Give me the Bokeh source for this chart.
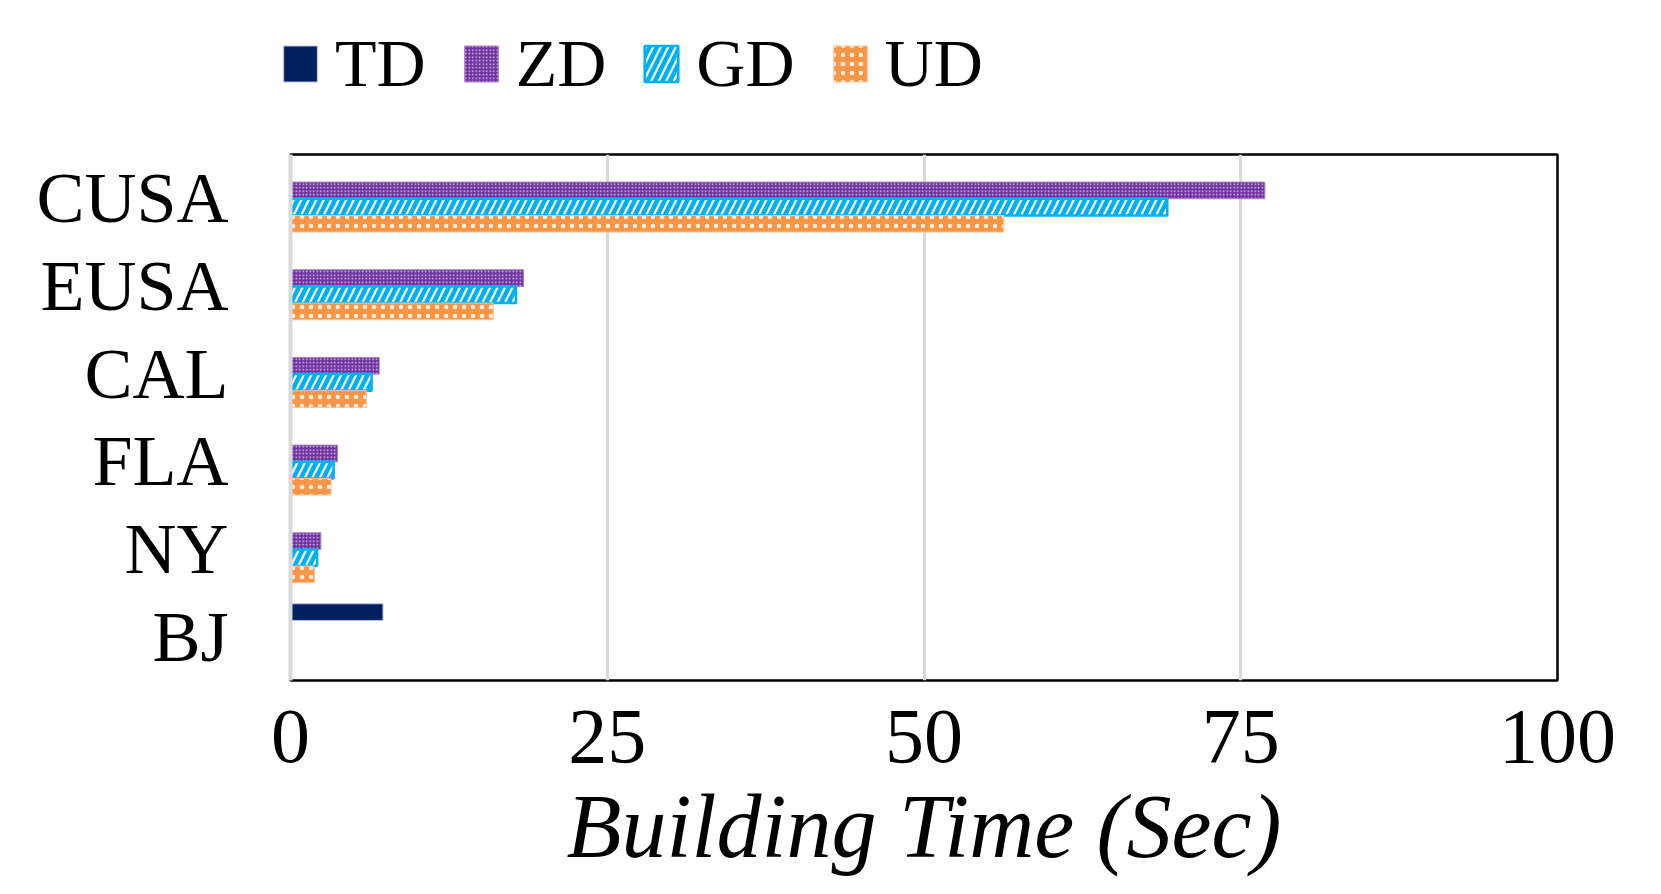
from bokeh.plotting import figure
from bokeh.models import (FactorRange, Range1d, FixedTicker, Legend, LegendItem,
                          ColumnDataSource)
from bokeh.transform import dodge
from bokeh.embed import file_html
from bokeh.resources import INLINE

cities = ["CUSA", "EUSA", "CAL", "FLA", "NY", "BJ"]
series = ["TD", "ZD", "GD", "UD"]
td = [None, None, None, None, None, 7.3]
zd = [76.9, 18.4, 7.0, 3.7, 2.4, None]
gd = [69.2, 17.8, 6.4, 3.4, 2.1, None]
ud = [56.3, 16.0, 6.0, 3.2, 1.9, None]
x_ticks = [0, 25, 50, 75, 100]

FONT = "Liberation Serif"
W = 1640
LEG_H = 140
MAIN_H = 878 - LEG_H
FL, FW, FH = 290, 1267, 528
FT = 154 - LEG_H

styles = {
    "TD": dict(fill_color="#002060", line_color="#b8c2d8", line_width=1),
    "ZD": dict(fill_color="#7030A0", line_color="#a57fc6", line_width=1,
               hatch_pattern="dot", hatch_color="white", hatch_scale=3.5,
               hatch_weight=1, hatch_alpha=0.75),
    "GD": dict(fill_color="white", line_color="#00B0F0", line_width=2.5,
               hatch_pattern="right_diagonal_line", hatch_color="#00B0F0",
               hatch_scale=15, hatch_weight=4.5),
    "UD": dict(fill_color="#F79646", line_color="#fbc49a", line_width=1,
               hatch_pattern="dot", hatch_color="white", hatch_scale=9,
               hatch_weight=1.5, hatch_alpha=0.85),
}
offsets = {"TD": 0.28, "ZD": 0.09, "GD": -0.10, "UD": -0.29}
values = {"TD": td, "ZD": zd, "GD": gd, "UD": ud}

def src(vals):
    c = [k for k, v in zip(cities, vals) if v is not None]
    v = [v for v in vals if v is not None]
    return ColumnDataSource(dict(city=c, val=v))

sources = {s: src(values[s]) for s in series}

p = figure(width=W, height=MAIN_H,
           y_range=FactorRange(factors=list(reversed(cities))),
           x_range=Range1d(0, 100),
           output_backend="svg", toolbar_location=None,
           min_border_left=FL, min_border_right=W - FL - FW,
           min_border_top=FT, min_border_bottom=MAIN_H - FT - FH)

p.outline_line_color = "black"
p.outline_line_width = 2.5
p.background_fill_color = "white"
p.border_fill_color = "white"

H = 0.19
for s in series:
    p.hbar(y=dodge("city", offsets[s], range=p.y_range), right="val", left=0,
           height=H, source=sources[s], **styles[s])

# axes
p.xaxis.ticker = FixedTicker(ticks=x_ticks)
p.xaxis.major_tick_line_color = None
p.xaxis.minor_tick_line_color = None
p.xaxis.major_tick_out = 0
p.xaxis.axis_line_color = None
p.xaxis.major_label_text_font = FONT
p.xaxis.major_label_text_font_size = "78px"
p.xaxis.major_label_text_color = "black"
p.xaxis.major_label_standoff = 30
p.xaxis.axis_label = "Building Time (Sec)"
p.xaxis.axis_label_text_font = FONT
p.xaxis.axis_label_text_font_style = "italic"
p.xaxis.axis_label_text_font_size = "90px"
p.xaxis.axis_label_text_color = "black"
p.xaxis.axis_label_standoff = 12

p.yaxis.major_tick_line_color = None
p.yaxis.major_tick_out = 0
p.yaxis.axis_line_color = "#d9d9d9"
p.yaxis.axis_line_width = 4
p.yaxis.major_label_text_font = FONT
p.yaxis.major_label_text_font_size = "72px"
p.yaxis.major_label_text_color = "black"
p.yaxis.major_label_standoff = 62

p.xgrid.grid_line_color = "#d9d9d9"
p.xgrid.grid_line_width = 3
p.ygrid.grid_line_color = None

# legend strip: hidden copies of the series supply the legend swatches
lf = figure(width=W, height=LEG_H, output_backend="svg", toolbar_location=None,
            x_axis_location=None, y_axis_location=None,
            min_border_left=0, min_border_right=0, min_border_top=0, min_border_bottom=0,
            x_range=Range1d(0, 100), y_range=FactorRange(factors=cities))
lf.outline_line_color = None
lf.xgrid.grid_line_color = None
lf.ygrid.grid_line_color = None
items = []
for s in series:
    r = lf.hbar(y="city", right="val", left=0, height=H, source=sources[s], **styles[s])
    r.visible = False
    items.append(LegendItem(label=s, renderers=[r]))
legend = Legend(items=items, orientation="horizontal", location=(279, 37),
                glyph_width=42, glyph_height=45, label_standoff=14, spacing=34,
                label_text_font=FONT, label_text_font_size="68px",
                label_text_color="black",
                inactive_fill_alpha=0,
                border_line_color=None, background_fill_alpha=0,
                padding=0, margin=0)
lf.add_layout(legend, "center")

open("out.html", "w").write(file_html([lf, p], INLINE))
